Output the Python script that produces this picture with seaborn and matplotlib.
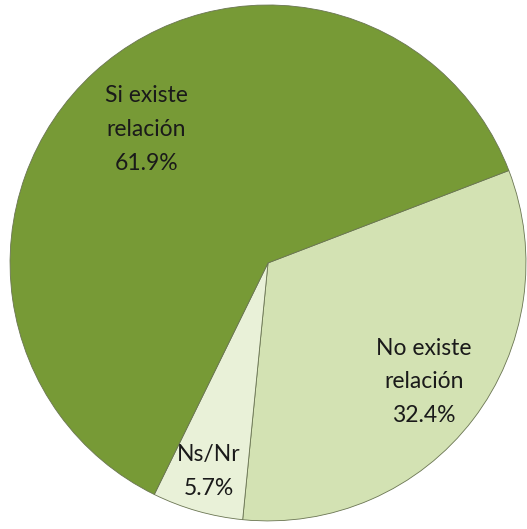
import numpy as np
import seaborn as sns
import matplotlib.pyplot as plt

# Data
labels = ['No existe\nrelación', 'Ns/Nr', 'Si existe\nrelación']
values = [32.4, 5.7, 61.9]
colors = ['#D3E2B3', '#E9F1D8', '#779A36']
label_dist = [0.76, 0.84, 0.70]

sns.set_theme(style='white')
plt.rcParams['font.family'] = ['Lato', 'DejaVu Sans']

fig = plt.figure(figsize=(5.27, 5.29), dpi=100)
ax = fig.add_axes([0, 0, 1, 1])

wedges, _ = ax.pie(values, colors=colors, startangle=21, counterclock=False,
                   radius=1, wedgeprops=dict(edgecolor='#6a7552', linewidth=0.6))

# labels at the middle angle of each wedge
for w, lab, v, d in zip(wedges, labels, values, label_dist):
    ang = np.deg2rad((w.theta1 + w.theta2) / 2)
    ax.text(d * np.cos(ang), d * np.sin(ang), f'{lab}\n{v:.1f}%',
            ha='center', va='center', fontsize=16.5, linespacing=1.75, color='#1a1a1a')

ax.set_aspect('equal')
ax.set_xlim(-1.039, 1.004)
ax.set_ylim(-1.031, 1.019)
ax.axis('off')

plt.savefig('out.png', dpi=100)
